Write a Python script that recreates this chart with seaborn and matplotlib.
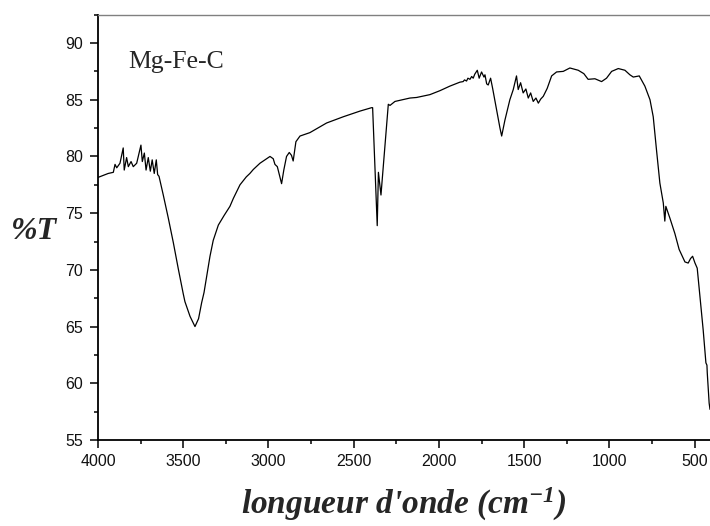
# FTIR spectrum of Mg-Fe-C, recreated with seaborn
import matplotlib
matplotlib.use('Agg')
import matplotlib.pyplot as plt
from matplotlib.ticker import MultipleLocator
import pandas as pd
import seaborn as sns

# DATA
wavenumber = [4000, 3940, 3910, 3900, 3890, 3871, 3852, 3846, 3832, 3822, 3806,
              3793, 3773, 3748, 3740, 3728, 3718, 3705, 3693, 3682, 3670, 3658,
              3650, 3642, 3617, 3588, 3558, 3529, 3500, 3490, 3460, 3431, 3410,
              3392, 3378, 3343, 3324, 3294, 3260, 3226, 3206, 3167, 3130, 3109,
              3089, 3050, 3011, 2991, 2972, 2962, 2948, 2935, 2923, 2910, 2894,
              2878, 2865, 2855, 2839, 2815, 2757, 2717, 2659, 2561, 2463, 2395,
              2389, 2362, 2355, 2340, 2317, 2297, 2287, 2258, 2170, 2131, 2053,
              1994, 1936, 1877, 1858, 1850, 1838, 1830, 1818, 1808, 1799, 1790,
              1775, 1764, 1750, 1736, 1730, 1720, 1711, 1697, 1685, 1662, 1642,
              1632, 1613, 1584, 1564, 1545, 1535, 1521, 1506, 1490, 1476, 1462,
              1447, 1431, 1417, 1403, 1388, 1365, 1339, 1310, 1271, 1232, 1183,
              1150, 1125, 1085, 1046, 1017, 987, 948, 909, 880, 860, 825, 792,
              762, 743, 724, 704, 684, 675, 669, 645, 616, 591, 557, 538, 524,
              512, 498, 485, 469, 450, 434, 428, 426, 415, 410]
transmittance = [78.15, 78.5, 78.6, 79.3, 79.0, 79.4, 80.75, 78.8, 79.9, 79.1, 79.55,
                 79.1, 79.4, 81.0, 79.55, 80.3, 78.8, 79.9, 78.7, 79.7, 78.5, 79.7,
                 78.4, 78.25, 76.6, 74.6, 72.4, 70.1, 67.9, 67.2, 65.9, 65.0, 65.7,
                 67.1, 68.0, 71.2, 72.6, 73.95, 74.8, 75.6, 76.3, 77.5, 78.2, 78.5,
                 78.85, 79.4, 79.8, 80.0, 79.8, 79.3, 79.1, 78.3, 77.6, 78.8, 80.0,
                 80.35, 80.1, 79.6, 81.3, 81.8, 82.1, 82.45, 82.95, 83.5, 84.0, 84.3,
                 84.3, 73.9, 78.6, 76.6, 80.9, 84.6, 84.5, 84.85, 85.15, 85.2, 85.45,
                 85.8, 86.2, 86.55, 86.6, 86.75, 86.65, 86.9, 86.8, 87.05, 86.9, 87.25,
                 87.6, 86.9, 87.45, 87.0, 87.2, 86.4, 86.3, 86.9, 86.0, 84.1, 82.5,
                 81.8, 83.2, 85.0, 85.9, 87.1, 85.9, 86.5, 85.6, 85.95, 85.15, 85.6,
                 84.85, 85.15, 84.7, 85.06, 85.3, 86.0, 87.1, 87.45, 87.5, 87.8, 87.6,
                 87.3, 86.8, 86.85, 86.6, 86.9, 87.5, 87.75, 87.6, 87.2, 87.0, 87.1, 86.2,
                 85.0, 83.5, 80.6, 77.65, 75.9, 74.3, 75.6, 74.55, 73.2, 71.8, 70.7, 70.6, 71.0,
                 71.2, 70.6, 70.15, 67.65, 64.7, 61.8, 61.6, 60.9, 58.25, 57.7]
xticks = [4000, 3500, 3000, 2500, 2000, 1500, 1000, 500]
yticks = [55, 60, 65, 70, 75, 80, 85, 90]
sample_name = 'Mg-Fe-C'

df = pd.DataFrame({'wavenumber': wavenumber, 'T': transmittance})

sns.set_theme(style='ticks')
plt.rcParams['font.family'] = ['Liberation Sans', 'DejaVu Sans']
plt.rcParams['mathtext.fontset'] = 'custom'
plt.rcParams['mathtext.rm'] = 'Liberation Serif:bold:italic'
plt.rcParams['mathtext.it'] = 'Liberation Serif:bold:italic'
plt.rcParams['mathtext.bf'] = 'Liberation Serif:bold:italic'

fig = plt.figure(figsize=(7.1, 5.26), dpi=100)
ax = fig.add_axes([0.138, 0.1635, 0.862, 0.8086])

sns.lineplot(data=df, x='wavenumber', y='T', sort=False, estimator=None,
             color='black', linewidth=0.9, ax=ax)

ax.set_xlim(4000, 410)
ax.set_ylim(55, 92.5)
ax.set_xticks(xticks)
ax.set_yticks(yticks)
ax.xaxis.set_minor_locator(MultipleLocator(250))
ax.yaxis.set_minor_locator(MultipleLocator(2.5))

ax.tick_params(which='major', direction='out', length=6, width=1.1,
               labelsize=11.5, colors='black', labelcolor='#111111')
ax.tick_params(which='minor', direction='out', length=3, width=1.1, colors='black')
ax.tick_params(axis='x', pad=4)
ax.tick_params(axis='y', pad=5)

for side in ['left', 'bottom']:
    ax.spines[side].set_linewidth(1.3)
    ax.spines[side].set_color('black')
ax.spines['top'].set_color('#808080')
ax.spines['top'].set_linewidth(1.0)
ax.spines['right'].set_visible(False)

ax.set_xlabel("longueur d'onde (cm$^{-1}$)", family='Liberation Serif',
              weight='bold', style='italic', fontsize=24, labelpad=12)
ax.set_ylabel('%T', family='Liberation Serif', weight='bold', style='italic',
              fontsize=23, rotation=0, ha='center', va='center')
ax.yaxis.set_label_coords(-0.105, 0.49)

ax.text(3820, 88.3, sample_name, family='Liberation Serif', fontsize=18.5,
        ha='left', va='center')

fig.savefig('out.png', dpi=100)
